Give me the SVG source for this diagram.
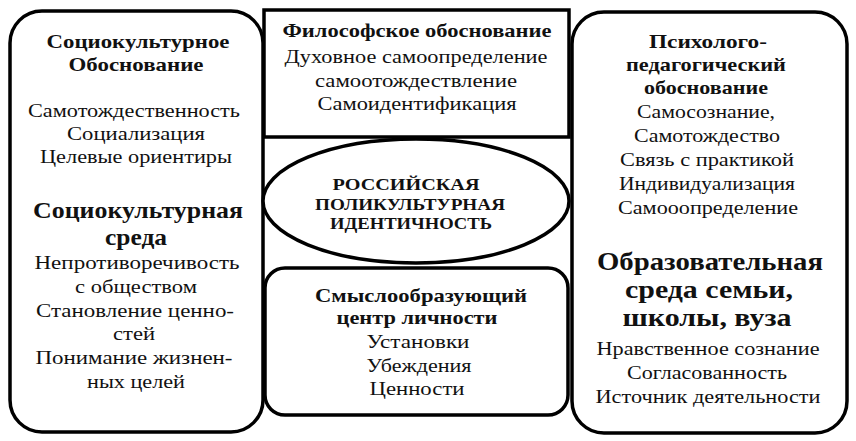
<svg xmlns="http://www.w3.org/2000/svg" width="856" height="441" viewBox="0 0 856 441">
<style>
.box{fill:#fff;stroke:#000;stroke-width:3.5}
.t{font-family:'Liberation Serif','DejaVu Serif',serif;font-size:18.5px;text-anchor:middle;fill:#111}
.b{font-weight:bold;font-size:19px}
.h{font-weight:bold;font-size:23px}
.H{font-weight:bold;font-size:25px}
.e{font-weight:bold;font-size:16px}
</style>
<rect width="856" height="441" fill="#fff"/>
<g id="left">
<rect class="box" x="10" y="11" width="253" height="421" rx="32"/>
<text class="t b" x="138" y="48" textLength="183" lengthAdjust="spacingAndGlyphs">Социокультурное</text>
<text class="t b" x="136" y="71" textLength="135" lengthAdjust="spacingAndGlyphs">Обоснование</text>
<text class="t" x="134" y="117" textLength="212" lengthAdjust="spacingAndGlyphs">Самотождественность</text>
<text class="t" x="136" y="140" textLength="138" lengthAdjust="spacingAndGlyphs">Социализация</text>
<text class="t" x="136" y="163" textLength="192" lengthAdjust="spacingAndGlyphs">Целевые ориентиры</text>
<text class="t h" x="138" y="218" textLength="210" lengthAdjust="spacingAndGlyphs">Социокультурная</text>
<text class="t h" x="136" y="245" textLength="62" lengthAdjust="spacingAndGlyphs">среда</text>
<text class="t" x="137" y="269" textLength="205" lengthAdjust="spacingAndGlyphs">Непротиворечивость</text>
<text class="t" x="136" y="293" textLength="122" lengthAdjust="spacingAndGlyphs">с обществом</text>
<text class="t" x="135" y="317" textLength="198" lengthAdjust="spacingAndGlyphs">Становление ценно-</text>
<text class="t" x="134" y="340" textLength="42" lengthAdjust="spacingAndGlyphs">стей</text>
<text class="t" x="134" y="364" textLength="197" lengthAdjust="spacingAndGlyphs">Понимание жизнен-</text>
<text class="t" x="136" y="388" textLength="98" lengthAdjust="spacingAndGlyphs">ных целей</text>
</g>
<g id="right">
<rect class="box" x="572" y="12" width="275" height="421" rx="32"/>
<text class="t b" x="708" y="48" textLength="118" lengthAdjust="spacingAndGlyphs">Психолого-</text>
<text class="t b" x="706" y="71" textLength="160" lengthAdjust="spacingAndGlyphs">педагогический</text>
<text class="t b" x="706" y="94" textLength="124" lengthAdjust="spacingAndGlyphs">обоснование</text>
<text class="t" x="706" y="118" textLength="138" lengthAdjust="spacingAndGlyphs">Самосознание,</text>
<text class="t" x="707" y="142" textLength="146" lengthAdjust="spacingAndGlyphs">Самотождество</text>
<text class="t" x="707" y="166" textLength="174" lengthAdjust="spacingAndGlyphs">Связь с практикой</text>
<text class="t" x="707" y="190" textLength="176" lengthAdjust="spacingAndGlyphs">Индивидуализация</text>
<text class="t" x="708" y="214" textLength="180" lengthAdjust="spacingAndGlyphs">Самооопределение</text>
<text class="t H" x="710" y="270" textLength="226" lengthAdjust="spacingAndGlyphs">Образовательная</text>
<text class="t H" x="709" y="298" textLength="168" lengthAdjust="spacingAndGlyphs">среда семьи,</text>
<text class="t H" x="707" y="326" textLength="169" lengthAdjust="spacingAndGlyphs">школы, вуза</text>
<text class="t" x="708" y="355" textLength="223" lengthAdjust="spacingAndGlyphs">Нравственное сознание</text>
<text class="t" x="707" y="379" textLength="160" lengthAdjust="spacingAndGlyphs">Согласованность</text>
<text class="t" x="708" y="403" textLength="225" lengthAdjust="spacingAndGlyphs">Источник деятельности</text>
</g>
<g id="philosophy">
<rect class="box" x="264" y="10" width="305" height="127"/>
<text class="t b" x="417" y="37" textLength="269" lengthAdjust="spacingAndGlyphs">Философское обоснование</text>
<text class="t" x="416" y="63" textLength="263" lengthAdjust="spacingAndGlyphs">Духовное самоопределение</text>
<text class="t" x="416" y="87" textLength="202" lengthAdjust="spacingAndGlyphs">самоотождествление</text>
<text class="t" x="417" y="110" textLength="199" lengthAdjust="spacingAndGlyphs">Самоидентификация</text>
</g>
<g id="identity">
<ellipse class="box" cx="416" cy="201" rx="153" ry="62"/>
<text class="t e" x="406" y="190" textLength="147" lengthAdjust="spacingAndGlyphs">РОССИЙСКАЯ</text>
<text class="t e" x="410" y="210" textLength="190" lengthAdjust="spacingAndGlyphs">ПОЛИКУЛЬТУРНАЯ</text>
<text class="t e" x="411" y="229" textLength="162" lengthAdjust="spacingAndGlyphs">ИДЕНТИЧНОСТЬ</text>
</g>
<g id="center">
<rect class="box" x="265" y="268" width="303" height="147" rx="20"/>
<text class="t b" x="421" y="302" textLength="212" lengthAdjust="spacingAndGlyphs">Смыслообразующий</text>
<text class="t b" x="417" y="324" textLength="161" lengthAdjust="spacingAndGlyphs">центр личности</text>
<text class="t" x="418" y="348" textLength="103" lengthAdjust="spacingAndGlyphs">Установки</text>
<text class="t" x="419" y="372" textLength="105" lengthAdjust="spacingAndGlyphs">Убеждения</text>
<text class="t" x="417" y="395" textLength="95" lengthAdjust="spacingAndGlyphs">Ценности</text>
</g>
<g id="connectors"></g>
</svg>
